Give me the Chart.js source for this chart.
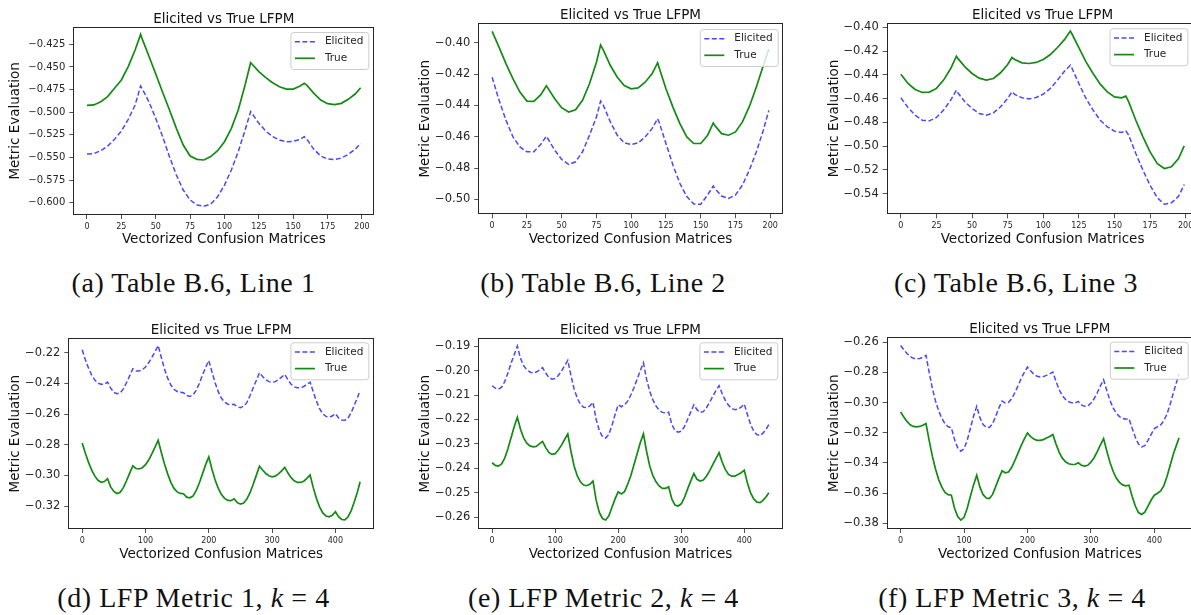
<!DOCTYPE html>
<html>
<head>
<meta charset="utf-8">
<title>Elicited vs True LFPM</title>
<script src="https://cdn.jsdelivr.net/npm/chart.js@4.4.0/dist/chart.umd.min.js"></script>
<style>
  html, body { margin: 0; padding: 0; background: #fff; width: 1191px; height: 615px; overflow: hidden; }
  canvas { position: absolute; }
  .cap { position: absolute; font-family: "Liberation Serif", "DejaVu Serif", serif; font-size: 28px; color: #111;
         letter-spacing: 0.55px; white-space: nowrap; line-height: 1; transform: translate(-50%, -50%); }
</style>
</head>
<body>
<canvas id="pa"></canvas>
<canvas id="pb"></canvas>
<canvas id="pc"></canvas>
<canvas id="pd"></canvas>
<canvas id="pe"></canvas>
<canvas id="pf"></canvas>
<div class="cap" style="left:193.5px; top:283px">(a) Table B.6, Line 1</div>
<div class="cap" style="left:603px; top:283px">(b) Table B.6, Line 2</div>
<div class="cap" style="left:1016px; top:283px">(c) Table B.6, Line 3</div>
<div class="cap" style="left:193.5px; top:598px">(d) LFP Metric 1, <i>k</i> = 4</div>
<div class="cap" style="left:603.5px; top:598px">(e) LFP Metric 2, <i>k</i> = 4</div>
<div class="cap" style="left:1012px; top:598px">(f) LFP Metric 3, <i>k</i> = 4</div>
<script>
// ---------- Table B.6 lines (200 vectorized confusion matrices) ----------
const xLine1 = [0,5,10,15,20,25,30,35,39,40,45,50,55,60,65,70,75,80,85,90,95,100,105,110,115,119,120,125,130,135,140,145,150,155,158,160,165,170,175,180,185,190,195,199];
const elicitedLine1 = [-0.5462,-0.5458,-0.5425,-0.5374,-0.5300,-0.5208,-0.5079,-0.4921,-0.4710,-0.4736,-0.4884,-0.5068,-0.5270,-0.5492,-0.5694,-0.5860,-0.5970,-0.6026,-0.6040,-0.6015,-0.5934,-0.5805,-0.5639,-0.5436,-0.5197,-0.4994,-0.5013,-0.5123,-0.5208,-0.5270,-0.5307,-0.5326,-0.5322,-0.5300,-0.5270,-0.5300,-0.5410,-0.5484,-0.5517,-0.5524,-0.5506,-0.5466,-0.5410,-0.5344];
const trueLine1 = [-0.4924,-0.4920,-0.4884,-0.4828,-0.4736,-0.4644,-0.4497,-0.4313,-0.4140,-0.4184,-0.4379,-0.4578,-0.4780,-0.4976,-0.5178,-0.5363,-0.5484,-0.5521,-0.5528,-0.5491,-0.5425,-0.5326,-0.5178,-0.4976,-0.4699,-0.4453,-0.4467,-0.4552,-0.4618,-0.4674,-0.4718,-0.4744,-0.4744,-0.4710,-0.4681,-0.4703,-0.4792,-0.4865,-0.4906,-0.4917,-0.4902,-0.4858,-0.4799,-0.4729];

const xLine2 = [0,5,10,15,20,25,30,35,39,40,45,50,55,60,65,70,75,78,80,85,90,95,100,105,110,115,119,120,125,130,135,140,145,150,155,159,160,165,170,175,180,185,190,195,199];
const elicitedLine2 = [-0.4219,-0.4367,-0.4495,-0.4601,-0.4665,-0.4696,-0.4696,-0.4648,-0.4597,-0.4611,-0.4686,-0.4745,-0.4777,-0.4760,-0.4696,-0.4590,-0.4473,-0.4372,-0.4399,-0.4505,-0.4590,-0.4639,-0.4650,-0.4639,-0.4601,-0.4548,-0.4484,-0.4505,-0.4643,-0.4781,-0.4898,-0.4983,-0.5030,-0.5032,-0.4972,-0.4915,-0.4930,-0.4979,-0.4994,-0.4972,-0.4909,-0.4813,-0.4696,-0.4558,-0.4431];
const trueLine2 = [-0.3926,-0.4028,-0.4134,-0.4229,-0.4314,-0.4372,-0.4374,-0.4331,-0.4274,-0.4287,-0.4357,-0.4414,-0.4442,-0.4427,-0.4367,-0.4261,-0.4123,-0.4013,-0.4045,-0.4144,-0.4219,-0.4272,-0.4293,-0.4287,-0.4251,-0.4197,-0.4127,-0.4155,-0.4293,-0.4410,-0.4516,-0.4601,-0.4643,-0.4643,-0.4590,-0.4512,-0.4527,-0.4580,-0.4590,-0.4569,-0.4505,-0.4406,-0.4282,-0.4144,-0.4038];

const xLine3 = [0,5,10,15,20,25,30,35,39,40,45,50,55,60,65,70,75,78,80,85,90,95,100,105,110,115,119,120,125,130,135,140,145,150,155,158,160,165,170,175,180,185,190,195,199];
const elicitedLine3 = [-0.4593,-0.4675,-0.4739,-0.4782,-0.4787,-0.4759,-0.4697,-0.4613,-0.4529,-0.4551,-0.4627,-0.4683,-0.4725,-0.4739,-0.4720,-0.4669,-0.4599,-0.4543,-0.4565,-0.4593,-0.4602,-0.4590,-0.4562,-0.4514,-0.4444,-0.4368,-0.4318,-0.4340,-0.4472,-0.4599,-0.4697,-0.4782,-0.4838,-0.4874,-0.4886,-0.4872,-0.4908,-0.5063,-0.5203,-0.5330,-0.5434,-0.5490,-0.5479,-0.5423,-0.5324];
const trueLine3 = [-0.4394,-0.4472,-0.4523,-0.4548,-0.4545,-0.4514,-0.4444,-0.4346,-0.4242,-0.4261,-0.4332,-0.4388,-0.4427,-0.4444,-0.4430,-0.4382,-0.4312,-0.4253,-0.4270,-0.4298,-0.4304,-0.4295,-0.4270,-0.4228,-0.4169,-0.4101,-0.4031,-0.4051,-0.4171,-0.4290,-0.4388,-0.4478,-0.4543,-0.4585,-0.4593,-0.4579,-0.4627,-0.4782,-0.4922,-0.5049,-0.5147,-0.5189,-0.5175,-0.5105,-0.4998];

// ---------- LFP metrics, k = 4 (440 vectorized confusion matrices) ----------
const xMetric = [0,5,10,15,20,25,30,35,40,45,50,55,60,65,70,75,80,85,90,95,100,105,110,115,120,125,130,135,140,145,150,155,160,165,170,175,180,185,190,195,200,205,210,215,220,225,230,235,240,245,250,255,260,265,270,275,280,285,290,295,300,305,310,315,320,325,330,335,340,345,350,355,360,365,370,375,380,385,390,395,400,405,410,415,420,425,430,435,439];

const elicitedMetric1 = [-0.2180,-0.2245,-0.2300,-0.2345,-0.2378,-0.2398,-0.2405,-0.2405,-0.2391,
  -0.2430,-0.2458,-0.2467,-0.2462,-0.2435,-0.2395,-0.2350,-0.2304,
  -0.2318,-0.2318,-0.2310,-0.2292,-0.2265,-0.2230,-0.2192,-0.2152,
  -0.2230,-0.2305,-0.2365,-0.2410,-0.2438,-0.2452,-0.2458,-0.2460,
  -0.2478,-0.2484,-0.2475,-0.2445,-0.2400,-0.2345,-0.2295,-0.2250,
  -0.2325,-0.2395,-0.2455,-0.2497,-0.2522,-0.2535,-0.2538,-0.2536,
  -0.2552,-0.2558,-0.2548,-0.2525,-0.2480,-0.2430,-0.2380,-0.2330,
  -0.2355,-0.2375,-0.2388,-0.2391,-0.2388,-0.2375,-0.2358,-0.2341,
  -0.2375,-0.2405,-0.2422,-0.2428,-0.2428,-0.2420,-0.2405,-0.2391,
  -0.2455,-0.2515,-0.2565,-0.2598,-0.2615,-0.2619,-0.2612,-0.2597,
  -0.2625,-0.2638,-0.2640,-0.2625,-0.2590,-0.2540,-0.2490,-0.2445];
const trueMetric1 = [-0.2788,-0.2855,-0.2915,-0.2965,-0.3005,-0.3032,-0.3045,-0.3040,-0.3022,
  -0.3075,-0.3105,-0.3118,-0.3110,-0.3080,-0.3035,-0.2985,-0.2938,
  -0.2955,-0.2958,-0.2950,-0.2930,-0.2900,-0.2860,-0.2815,-0.2771,
  -0.2850,-0.2925,-0.2990,-0.3045,-0.3085,-0.3108,-0.3118,-0.3120,
  -0.3142,-0.3146,-0.3135,-0.3100,-0.3050,-0.2990,-0.2930,-0.2879,
  -0.2960,-0.3030,-0.3085,-0.3125,-0.3150,-0.3163,-0.3165,-0.3153,
  -0.3178,-0.3187,-0.3180,-0.3155,-0.3115,-0.3060,-0.3000,-0.2940,
  -0.2965,-0.2988,-0.3002,-0.3009,-0.3005,-0.2990,-0.2970,-0.2948,
  -0.2985,-0.3015,-0.3035,-0.3046,-0.3046,-0.3038,-0.3020,-0.2998,
  -0.3080,-0.3150,-0.3205,-0.3245,-0.3265,-0.3270,-0.3260,-0.3237,
  -0.3270,-0.3288,-0.3290,-0.3270,-0.3230,-0.3170,-0.3105,-0.3042];

const elicitedMetric2 = [-0.2062,-0.2072,-0.2076,-0.2068,-0.2045,-0.2010,-0.1970,-0.1935,-0.1900,
  -0.1950,-0.1980,-0.1997,-0.2006,-0.2010,-0.2006,-0.1998,-0.1988,
  -0.2010,-0.2028,-0.2035,-0.2032,-0.2020,-0.2002,-0.1980,-0.1958,
  -0.2020,-0.2075,-0.2112,-0.2138,-0.2150,-0.2152,-0.2145,-0.2130,
  -0.2200,-0.2245,-0.2270,-0.2276,-0.2262,-0.2225,-0.2180,-0.2140,
  -0.2148,-0.2140,-0.2125,-0.2100,-0.2070,-0.2035,-0.2000,-0.1968,
  -0.2035,-0.2085,-0.2120,-0.2145,-0.2162,-0.2171,-0.2173,-0.2170,
  -0.2220,-0.2245,-0.2252,-0.2248,-0.2230,-0.2200,-0.2170,-0.2140,
  -0.2160,-0.2171,-0.2168,-0.2152,-0.2130,-0.2105,-0.2082,-0.2062,
  -0.2095,-0.2122,-0.2142,-0.2155,-0.2160,-0.2158,-0.2150,-0.2137,
  -0.2180,-0.2220,-0.2248,-0.2262,-0.2266,-0.2255,-0.2238,-0.2221];
const trueMetric2 = [-0.2377,-0.2388,-0.2391,-0.2382,-0.2358,-0.2320,-0.2275,-0.2230,-0.2191,
  -0.2240,-0.2275,-0.2297,-0.2308,-0.2312,-0.2310,-0.2300,-0.2290,
  -0.2315,-0.2335,-0.2343,-0.2340,-0.2325,-0.2305,-0.2282,-0.2259,
  -0.2330,-0.2390,-0.2430,-0.2455,-0.2468,-0.2471,-0.2465,-0.2452,
  -0.2530,-0.2580,-0.2605,-0.2611,-0.2595,-0.2560,-0.2525,-0.2496,
  -0.2505,-0.2495,-0.2465,-0.2430,-0.2385,-0.2340,-0.2295,-0.2259,
  -0.2330,-0.2390,-0.2430,-0.2455,-0.2472,-0.2482,-0.2482,-0.2475,
  -0.2525,-0.2550,-0.2554,-0.2545,-0.2520,-0.2485,-0.2452,-0.2421,
  -0.2445,-0.2452,-0.2448,-0.2432,-0.2410,-0.2385,-0.2360,-0.2336,
  -0.2375,-0.2405,-0.2425,-0.2432,-0.2432,-0.2425,-0.2418,-0.2408,
  -0.2460,-0.2500,-0.2525,-0.2538,-0.2540,-0.2530,-0.2515,-0.2500];

const elicitedMetric3 = [-0.2622,-0.2650,-0.2675,-0.2695,-0.2707,-0.2710,-0.2708,-0.2700,-0.2688,
  -0.2800,-0.2905,-0.2990,-0.3055,-0.3105,-0.3140,-0.3160,-0.3166,
  -0.3245,-0.3300,-0.3322,-0.3305,-0.3250,-0.3170,-0.3090,-0.3025,
  -0.3100,-0.3145,-0.3163,-0.3165,-0.3140,-0.3090,-0.3035,-0.2990,
  -0.3003,-0.3000,-0.2975,-0.2935,-0.2890,-0.2840,-0.2800,-0.2765,
  -0.2790,-0.2812,-0.2826,-0.2831,-0.2828,-0.2820,-0.2810,-0.2798,
  -0.2860,-0.2915,-0.2955,-0.2980,-0.2995,-0.3002,-0.3003,-0.2992,
  -0.3015,-0.3025,-0.3022,-0.3005,-0.2975,-0.2935,-0.2890,-0.2849,
  -0.2920,-0.2985,-0.3035,-0.3070,-0.3093,-0.3105,-0.3111,-0.3106,
  -0.3170,-0.3230,-0.3275,-0.3294,-0.3285,-0.3250,-0.3210,-0.3172,
  -0.3160,-0.3148,-0.3120,-0.3075,-0.3010,-0.2935,-0.2865,-0.2810];
const trueMetric3 = [-0.3062,-0.3095,-0.3125,-0.3147,-0.3158,-0.3161,-0.3158,-0.3150,-0.3139,
  -0.3250,-0.3355,-0.3440,-0.3510,-0.3560,-0.3595,-0.3610,-0.3613,
  -0.3700,-0.3755,-0.3778,-0.3760,-0.3700,-0.3620,-0.3545,-0.3481,
  -0.3560,-0.3610,-0.3632,-0.3635,-0.3608,-0.3555,-0.3500,-0.3452,
  -0.3465,-0.3460,-0.3430,-0.3385,-0.3335,-0.3285,-0.3240,-0.3201,
  -0.3225,-0.3242,-0.3250,-0.3250,-0.3245,-0.3235,-0.3225,-0.3212,
  -0.3275,-0.3330,-0.3368,-0.3392,-0.3405,-0.3410,-0.3410,-0.3399,
  -0.3415,-0.3421,-0.3415,-0.3395,-0.3365,-0.3325,-0.3280,-0.3239,
  -0.3320,-0.3395,-0.3455,-0.3500,-0.3528,-0.3545,-0.3551,-0.3547,
  -0.3620,-0.3685,-0.3728,-0.3741,-0.3725,-0.3685,-0.3645,-0.3613,
  -0.3600,-0.3585,-0.3550,-0.3490,-0.3415,-0.3340,-0.3280,-0.3234];

// ---------- tick labels ----------
const xTicksLine = [0, 25, 50, 75, 100, 125, 150, 175, 200];
const xTicksMetric = [0, 100, 200, 300, 400];
const yTicksLine1 = [-0.600, -0.575, -0.550, -0.525, -0.500, -0.475, -0.450, -0.425];
const yTicksLine2 = [-0.50, -0.48, -0.46, -0.44, -0.42, -0.40];
const yTicksLine3 = [-0.54, -0.52, -0.50, -0.48, -0.46, -0.44, -0.42, -0.40];
const yTicksMetric1 = [-0.32, -0.30, -0.28, -0.26, -0.24, -0.22];
const yTicksMetric2 = [-0.26, -0.25, -0.24, -0.23, -0.22, -0.21, -0.20, -0.19];
const yTicksMetric3 = [-0.38, -0.36, -0.34, -0.32, -0.30, -0.28, -0.26];

const FONT = '"DejaVu Sans", sans-serif';
const INK = '#262626';

// axes frame (all four spines) and the axes title
const frameTitle = {
  id: 'frameTitle',
  afterDatasetsDraw(chart, args, o) {
    const { ctx, chartArea: a } = chart;
    ctx.save();
    ctx.strokeStyle = INK;
    ctx.lineWidth = 1;
    ctx.strokeRect(Math.round(a.left) + 0.5, Math.round(a.top) + 0.5,
                   Math.round(a.right) - Math.round(a.left) - 1, Math.round(a.bottom) - Math.round(a.top) - 1);
    ctx.fillStyle = '#111';
    ctx.font = '13.5px ' + FONT;
    ctx.textAlign = 'center';
    ctx.textBaseline = 'alphabetic';
    ctx.fillText(o.text, (a.left + a.right) / 2, a.top - 4);
    ctx.restore();
  }
};

// legend box in the upper-right corner of the axes
const cornerLegend = {
  id: 'cornerLegend',
  afterDatasetsDraw(chart, args, o) {
    const { ctx, chartArea: a } = chart;
    const sets = chart.data.datasets;
    ctx.save();
    ctx.font = o.size + 'px ' + FONT;
    const tw = Math.max(...sets.map(d => ctx.measureText(d.label).width));
    const w = 4.5 + 20 + 10 + tw + 5;
    const rowH = 16.6;
    const h = rowH * sets.length + 3.8;
    const x = a.right - o.inset - w;
    const y = a.top + o.top;
    ctx.beginPath();
    if (ctx.roundRect) ctx.roundRect(x + 0.5, y + 0.5, w, h, 3); else ctx.rect(x + 0.5, y + 0.5, w, h);
    ctx.fillStyle = 'rgba(255,255,255,0.8)';
    ctx.fill();
    ctx.strokeStyle = '#cccccc';
    ctx.lineWidth = 1;
    ctx.stroke();
    sets.forEach((d, i) => {
      const cy = y + 9.7 + i * rowH;
      ctx.beginPath();
      ctx.setLineDash(d.borderDash || []);
      ctx.strokeStyle = d.borderColor;
      ctx.lineWidth = d.borderWidth;
      ctx.moveTo(x + 4.5, cy);
      ctx.lineTo(x + 24.5, cy);
      ctx.stroke();
      ctx.setLineDash([]);
      ctx.fillStyle = INK;
      ctx.textAlign = 'left';
      ctx.textBaseline = 'middle';
      ctx.fillText(d.label, x + 34.5, cy);
    });
    ctx.restore();
  }
};

function fmtY(dec) {
  return v => (v < 0 ? '\u2212' : '') + Math.abs(v).toFixed(dec);
}

function panel(p) {
  const cv = document.getElementById(p.id);
  cv.width = p.w; cv.height = p.h;
  cv.style.left = p.x0 + 'px'; cv.style.top = p.y0 + 'px';
  cv.style.width = p.w + 'px'; cv.style.height = p.h + 'px';
  const pts = ys => p.xs.map((x, i) => ({ x: x, y: ys[i] }));
  new Chart(cv, {
    type: 'line',
    data: {
      datasets: [
        { label: 'Elicited', data: pts(p.elicited), borderColor: 'rgba(20,20,255,0.78)', borderWidth: 1.5,
          borderDash: [5, 2.5], pointRadius: 0, tension: 0, fill: false },
        { label: 'True', data: pts(p.truth), borderColor: '#138a13', borderWidth: 1.7,
          pointRadius: 0, tension: 0, fill: false }
      ]
    },
    options: {
      responsive: false,
      animation: false,
      devicePixelRatio: 1,
      events: [],
      layout: { padding: { left: 0, top: p.box.t - p.y0, right: p.x0 + p.w - p.box.r, bottom: 0 } },
      scales: {
        x: {
          type: 'linear', min: p.xMin, max: p.xMax,
          afterBuildTicks: s => { s.ticks = p.xTicks.map(v => ({ value: v })); },
          afterFit: s => { s.height = p.y0 + p.h - p.box.b; },
          ticks: { autoSkip: false, maxRotation: 0, padding: 3, color: INK, font: { family: FONT, size: 8 },
                   callback: v => String(v) },
          grid: { drawOnChartArea: false, drawTicks: true, tickLength: 4, color: INK, lineWidth: 0.8 },
          border: { display: false },
          title: { display: true, text: 'Vectorized Confusion Matrices', color: '#111',
                   font: { family: FONT, size: 13.5 }, padding: { top: 0, bottom: p.xTitlePad } }
        },
        y: {
          type: 'linear', min: p.yMin, max: p.yMax,
          afterBuildTicks: s => { s.ticks = p.yTicks.map(v => ({ value: v })); },
          afterFit: s => { s.width = p.box.l - p.x0; },
          ticks: { autoSkip: false, padding: 4, color: INK, font: { family: FONT, size: p.yTickSize },
                   callback: fmtY(p.yDec) },
          grid: { drawOnChartArea: false, drawTicks: true, tickLength: 4, color: INK, lineWidth: 0.8 },
          border: { display: false },
          title: { display: true, text: 'Metric Evaluation', color: '#111',
                   font: { family: FONT, size: 13.5 }, padding: { top: p.yTitleX - 8.1, bottom: 0 } }
        }
      },
      plugins: {
        legend: { display: false },
        tooltip: { enabled: false },
        frameTitle: { text: 'Elicited vs True LFPM' },
        cornerLegend: { size: 10.5, inset: p.legInset, top: p.legTop }
      }
    },
    plugins: [frameTitle, cornerLegend]
  });
}

panel({ id: 'pa', x0: 0, y0: 0, w: 395, h: 250, box: { l: 73.3, t: 26.7, r: 374.3, b: 215 },
        xs: xLine1, elicited: elicitedLine1, truth: trueLine1, xMin: -9.95, xMax: 208.95, xTicks: xTicksLine,
        yMin: -0.6136, yMax: -0.4055, yTicks: yTicksLine1, yDec: 3, yTickSize: 10,
        yTitleX: 15, xTitlePad: 2.6, legInset: 6, legTop: 5.3 });
panel({ id: 'pb', x0: 400, y0: 0, w: 395, h: 250, box: { l: 478.3, t: 23.3, r: 782.7, b: 214.3 },
        xs: xLine2, elicited: elicitedLine2, truth: trueLine2, xMin: -9.95, xMax: 208.95, xTicks: xTicksLine,
        yMin: -0.5096, yMax: -0.3874, yTicks: yTicksLine2, yDec: 2, yTickSize: 11.5,
        yTitleX: 25, xTitlePad: 2.6, legInset: 5, legTop: 5.7 });
panel({ id: 'pc', x0: 800, y0: 0, w: 410, h: 250, box: { l: 886.7, t: 22.7, r: 1198.4, b: 214.3 },
        xs: xLine3, elicited: elicitedLine3, truth: trueLine3, xMin: -9.95, xMax: 208.95, xTicks: xTicksLine,
        yMin: -0.5575, yMax: -0.3960, yTicks: yTicksLine3, yDec: 2, yTickSize: 11.5,
        yTitleX: 34.3, xTitlePad: 2.6, legInset: 11, legTop: 5.6 });
panel({ id: 'pd', x0: 0, y0: 310, w: 395, h: 260, box: { l: 68.3, t: 338.3, r: 374, b: 529 },
        xs: xMetric, elicited: elicitedMetric1, truth: trueMetric1, xMin: -21.95, xMax: 460.95, xTicks: xTicksMetric,
        yMin: -0.3350, yMax: -0.2105, yTicks: yTicksMetric1, yDec: 2, yTickSize: 11.5,
        yTitleX: 15, xTitlePad: 7.6, legInset: 5.7, legTop: 4 });
panel({ id: 'pe', x0: 400, y0: 310, w: 395, h: 260, box: { l: 478.3, t: 338.3, r: 782.7, b: 529 },
        xs: xMetric, elicited: elicitedMetric2, truth: trueMetric2, xMin: -21.95, xMax: 460.95, xTicks: xTicksMetric,
        yMin: -0.2648, yMax: -0.1868, yTicks: yTicksMetric2, yDec: 2, yTickSize: 11.5,
        yTitleX: 25, xTitlePad: 7.6, legInset: 5.4, legTop: 4 });
panel({ id: 'pf', x0: 800, y0: 310, w: 410, h: 260, box: { l: 886.7, t: 337.3, r: 1193, b: 529 },
        xs: xMetric, elicited: elicitedMetric3, truth: trueMetric3, xMin: -21.95, xMax: 460.95, xTicks: xTicksMetric,
        yMin: -0.3837, yMax: -0.2568, yTicks: yTicksMetric3, yDec: 2, yTickSize: 11.5,
        yTitleX: 34.3, xTitlePad: 7.6, legInset: 5.3, legTop: 4.4 });
</script>
</body>
</html>
